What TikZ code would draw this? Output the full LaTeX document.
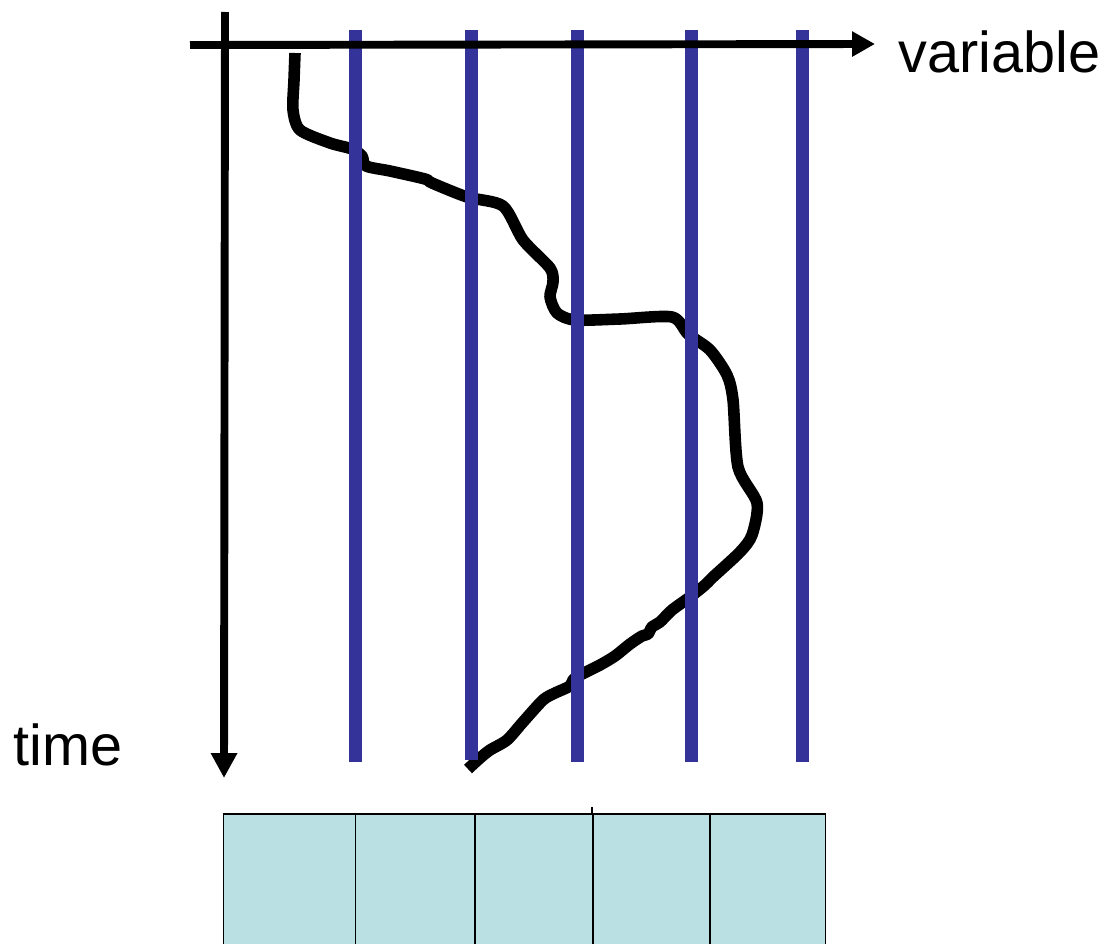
\documentclass[tikz,border=0pt]{standalone}
\usepackage{fontspec}
\setmainfont{Liberation Sans}
\usetikzlibrary{arrows.meta}
\definecolor{stripblue}{RGB}{51,51,153}
\definecolor{cellfill}{RGB}{186,224,227}
\tikzset{
  axisline/.style={line width=4.5pt, -{Triangle[width=0.5cm,length=0.5cm]}},
  stripline/.style={draw=stripblue, line width=7.4pt, line cap=butt},
  pathline/.style={line width=6.6pt, line cap=butt, line join=round},
  cell/.style={draw=black, fill=cellfill, line width=0.85pt, minimum width=2.36cm, minimum height=3cm, anchor=north west, inner sep=0pt},
  lbl/.style={font=\fontsize{32.8}{36}\selectfont, inner sep=0pt, anchor=base west}
}
\begin{document}
\begin{tikzpicture}[x=0.02cm,y=-0.02cm]
\useasboundingbox (0,0) rectangle (1108,943);
% cells
\node[cell, minimum width=2.64cm] (c1) at (223,813) {};
\node[cell, minimum width=2.38cm] (c2) at (355,813) {};
\node[cell, minimum width=2.36cm] (c3) at (474,813) {};
\node[cell, minimum width=2.34cm] (c4) at (592,813) {};
\node[cell, minimum width=2.32cm] (c5) at (709,813) {};
\coordinate (d4a) at (592,807);
\draw[line width=0.85pt] (d4a) -- (c4.north west);
% the wandering path
\draw[pathline] plot[smooth, tension=0.45] coordinates {
(295,53) (294,80) (293,110) (300,130) (330,143) (352,149) (362,156) (366,166)
(390,171) (425,179) (432,183) (467,197) (503,206) (523,240) (550,268) (553,282)
(550,297) (557,313) (575,320) (620,319) (672,317) (688,334) (710,350) (727,375)
(733,400) (738,467) (757,503) (752,535) (740,552) (713,577) (705,585) (690,597)
(672,610) (660,622) (652,627) (648,634) (642,636) (630,644) (615,656) (600,665)
(575,678) (570,686) (555,693) (543,700) (523,722) (507,740) (490,750) (480,758) (468,769)};
% strips
\foreach \n/\x/\b in {s1/355/762, s2/471.5/760, s3/577/762, s4/691/762, s5/802/762}{
  \coordinate (\n t) at (\x,30);
  \coordinate (\n b) at (\x,\b);
  \draw[stripline] (\n t) -- (\n b);
}
% axes
\coordinate (vt) at (225,12);
\coordinate (vb) at (224,778);
\coordinate (hl) at (190,45);
\coordinate (hr) at (875,44);
\draw[axisline] (vt) -- (vb);
\draw[axisline, -{Triangle[width=0.48cm,length=0.46cm]}] (hl) -- (hr);
\node[lbl] (var) at (898,72) {variable};
\node[lbl] (time) at (13,765) {time};
\end{tikzpicture}
\end{document}
